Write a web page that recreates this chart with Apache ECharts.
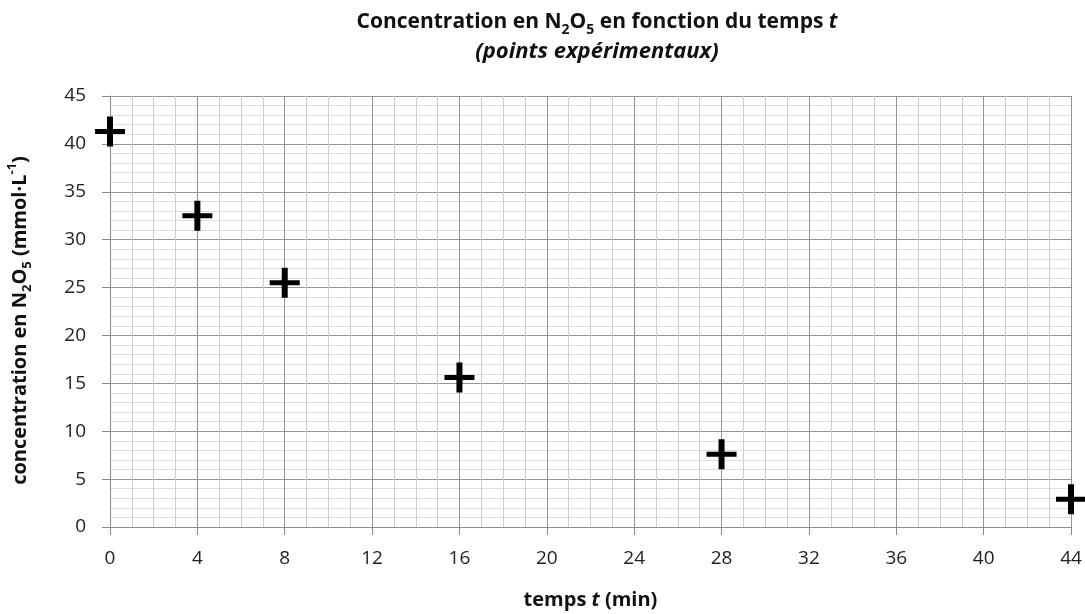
<!DOCTYPE html>
<html>
<head>
<meta charset="utf-8">
<script src="https://cdn.jsdelivr.net/npm/echarts@6/dist/echarts.min.js"></script>
<style>
  html, body { margin: 0; padding: 0; background: #fff; }
  #main { width: 1085px; height: 614px; }
</style>
</head>
<body>
<div id="main"></div>
<script>
// points expérimentaux
var temps = [0, 4, 8, 16, 28, 44];
var concentration = [41.3, 32.5, 25.5, 15.6, 7.6, 2.9];

var xTicks = [0, 4, 8, 12, 16, 20, 24, 28, 32, 36, 40, 44];
var yTicks = [0, 5, 10, 15, 20, 25, 30, 35, 40, 45];

var font = 'Open Sans';
var points = [];
for (var i = 0; i < temps.length; i++) {
    points.push([temps[i], concentration[i]]);
}

var myChart = echarts.init(document.getElementById('main'));
myChart.setOption({
    animation: false,
    title: {
        text: 'Concentration en N{sub|2}O{sub|5} en fonction du temps {it|t}\n{it2|(points expérimentaux)}',
        left: 592,
        textAlign: 'center',
        top: 3,
        textStyle: {
            fontFamily: font,
            fontWeight: 'bold',
            fontSize: 21,
            color: '#111',
            lineHeight: 29,
            rich: {
                sub: { fontFamily: font, fontWeight: 'bold', fontSize: 14, lineHeight: 14, verticalAlign: 'bottom', color: '#111' },
                it: { fontFamily: font, fontWeight: 'bold', fontStyle: 'italic', fontSize: 21, lineHeight: 29, color: '#111' },
                it2: { fontFamily: font, fontWeight: 'bold', fontStyle: 'italic', fontSize: 22, lineHeight: 29, color: '#111' }
            }
        }
    },
    grid: {
        left: 110,
        right: 14,
        top: 96,
        bottom: 87,
        outerBoundsMode: 'none'
    },
    xAxis: {
        type: 'value',
        min: xTicks[0],
        max: xTicks[xTicks.length - 1],
        interval: 4,
        name: 'temps {it|t} (min)',
        nameLocation: 'middle',
        nameGap: 63,
        nameTextStyle: {
            fontFamily: font, fontWeight: 'bold', fontSize: 20, color: '#111',
            rich: { it: { fontFamily: font, fontWeight: 'bold', fontStyle: 'italic', fontSize: 20, color: '#111' } }
        },
        axisLine: { lineStyle: { color: '#8c8c8c', width: 1 } },
        axisTick: { show: true, length: 8, lineStyle: { color: '#8c8c8c' } },
        axisLabel: { fontFamily: font, fontSize: 19, color: '#222', margin: 22 },
        splitLine: { show: true, lineStyle: { color: '#949494', width: 1 } },
        minorTick: { show: false, splitNumber: 4 },
        minorSplitLine: { show: true, lineStyle: { color: '#cfcfcf', width: 1 } }
    },
    yAxis: {
        type: 'value',
        min: yTicks[0],
        max: yTicks[yTicks.length - 1],
        interval: 5,
        name: 'concentration en N{sub|2}O{sub|5} (mmol·L{sup|-1})',
        nameLocation: 'middle',
        nameGap: 76,
        nameTextStyle: {
            fontFamily: font, fontWeight: 'bold', fontSize: 20, color: '#111', lineHeight: 28,
            padding: [0, 18, 0, 0],
            rich: {
                sub: { fontFamily: font, fontWeight: 'bold', fontSize: 13, lineHeight: 13, verticalAlign: 'bottom', color: '#111' },
                sup: { fontFamily: font, fontWeight: 'bold', fontSize: 13, lineHeight: 13, verticalAlign: 'top', color: '#111' }
            }
        },
        axisLine: { show: true, lineStyle: { color: '#8c8c8c', width: 1 } },
        axisTick: { show: true, length: 8, lineStyle: { color: '#8c8c8c' } },
        axisLabel: { fontFamily: font, fontSize: 19, color: '#222', margin: 24 },
        splitLine: { show: true, lineStyle: { color: '#949494', width: 1 } },
        minorTick: { show: false, splitNumber: 5 },
        minorSplitLine: { show: true, lineStyle: { color: '#dedede', width: 1 } }
    },
    series: [
        {
            type: 'scatter',
            data: points,
            clip: false,
            symbol: 'path://M12,0h6v30h-6z M0,12.5h30v5h-30z',
            symbolSize: [30, 30],
            itemStyle: { color: '#000', opacity: 1 }
        }
    ]
});
</script>
</body>
</html>
